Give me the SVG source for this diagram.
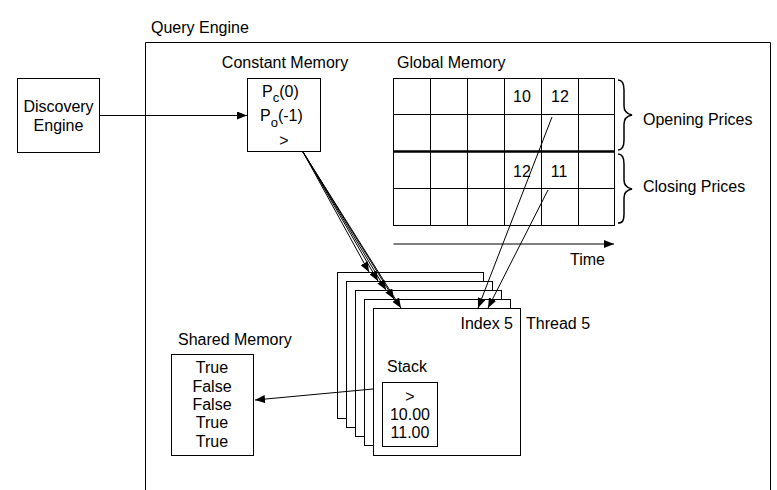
<svg xmlns="http://www.w3.org/2000/svg" width="777" height="490" viewBox="0 0 777 490">
<style>
text{font-family:"Liberation Sans",Arial,Helvetica,sans-serif;font-size:16px;fill:#000}
.c{text-anchor:middle}
.e{text-anchor:end}
.sub{font-size:13px}
.box{fill:#fff;stroke:#000;stroke-width:1}
.ln{fill:none;stroke:#000;stroke-width:1}
</style>
<defs>
<marker id="ah" viewBox="0 0 10 8" refX="10" refY="4" markerWidth="10" markerHeight="8" markerUnits="userSpaceOnUse" orient="auto">
<path d="M0,0 L10,4 L0,8 Z" fill="#000"/>
</marker>
</defs>
<rect x="0" y="0" width="777" height="490" fill="#fff"/>

<g id="query-engine">
<path class="ln" d="M145.5,490 V42.5 H770.5 V490"/>
<text x="151" y="33">Query Engine</text>
</g>

<g id="discovery-engine">
<rect class="box" x="17.5" y="78.5" width="82" height="74"/>
<text class="c" x="58.5" y="112">Discovery</text>
<text class="c" x="58.5" y="131">Engine</text>
</g>

<g id="constant-memory">
<text class="c" x="285" y="68">Constant Memory</text>
<rect class="box" x="247.5" y="78.5" width="73" height="73"/>
<text x="262" y="97">P<tspan class="sub" dy="5">c</tspan><tspan dy="-5">(0)</tspan></text>
<text x="260" y="121">P<tspan class="sub" dy="6">o</tspan><tspan dy="-6">(-1)</tspan></text>
<text class="c" x="284" y="146">&gt;</text>
</g>

<g id="global-memory">
<text x="397" y="68">Global Memory</text>
<rect class="box" x="393.5" y="78.5" width="221" height="147"/>
<path class="ln" d="M430.5,78.5V225.5M467.5,78.5V225.5M504.5,78.5V225.5M541.5,78.5V225.5M578.5,78.5V225.5M393.5,114.5H614.5M393.5,188.5H614.5"/>
<path fill="none" stroke="#000" stroke-width="2.5" d="M393.5,151.5H614.5"/>
<text class="c" x="522" y="102">10</text>
<text class="c" x="560" y="102">12</text>
<text class="c" x="522" y="177">12</text>
<text class="c" x="559" y="177">11</text>
</g>

<g id="opening-prices">
<path fill="none" stroke="#000" stroke-width="1.5" d="M618,80 C623,80 624,84 624,90 L624,106 C624,111 627,114 632,115 C627,116 624,119 624,124 L624,140 C624,146 623,150 618,150"/>
<text x="643" y="125">Opening Prices</text>
</g>

<g id="closing-prices">
<path fill="none" stroke="#000" stroke-width="1.5" d="M618,154 C623,154 624,158 624,164 L624,180 C624,185 627,188 632,189 C627,190 624,193 624,198 L624,214 C624,220 623,223 618,223"/>
<text x="643" y="192">Closing Prices</text>
</g>

<g id="time-axis">
<text x="570" y="265">Time</text>
</g>

<g id="threads">
<rect class="box" x="337.5" y="272.5" width="146" height="146"/>
<rect class="box" x="346.5" y="281.5" width="146" height="146"/>
<rect class="box" x="355.5" y="290.5" width="146" height="146"/>
<rect class="box" x="364.5" y="299.5" width="146" height="146"/>
<rect class="box" x="373.5" y="308.5" width="147" height="147"/>
<text class="e" x="513" y="329">Index 5</text>
<text x="526" y="329">Thread 5</text>
</g>

<g id="stack">
<text x="387" y="372">Stack</text>
<rect class="box" x="382.5" y="382.5" width="55" height="64"/>
<text class="c" x="410" y="402">&gt;</text>
<text class="c" x="410" y="420">10.00</text>
<text class="c" x="410" y="438">11.00</text>
</g>

<g id="shared-memory">
<text x="178" y="345">Shared Memory</text>
<rect class="box" x="171.5" y="354.5" width="82" height="101"/>
<text class="c" x="212" y="373">True</text>
<text class="c" x="212" y="392">False</text>
<text class="c" x="212" y="410">False</text>
<text class="c" x="212" y="428">True</text>
<text class="c" x="212" y="447">True</text>
</g>

<g id="connectors">
<line class="ln" x1="99.5" y1="115.5" x2="247" y2="115.5" marker-end="url(#ah)"/>
<line class="ln" x1="393.5" y1="244" x2="614" y2="244" marker-end="url(#ah)"/>
<line class="ln" x1="303" y1="152" x2="369" y2="272" marker-end="url(#ah)"/>
<line class="ln" x1="303" y1="152" x2="378" y2="281" marker-end="url(#ah)"/>
<line class="ln" x1="303" y1="152" x2="386" y2="290" marker-end="url(#ah)"/>
<line class="ln" x1="303" y1="152" x2="394" y2="299" marker-end="url(#ah)"/>
<line class="ln" x1="303" y1="152" x2="401" y2="308" marker-end="url(#ah)"/>
<line class="ln" x1="552" y1="117" x2="478" y2="308" marker-end="url(#ah)"/>
<line class="ln" x1="548" y1="190" x2="488" y2="308" marker-end="url(#ah)"/>
<line class="ln" x1="373" y1="389" x2="255" y2="400" marker-end="url(#ah)"/>
</g>
</svg>
